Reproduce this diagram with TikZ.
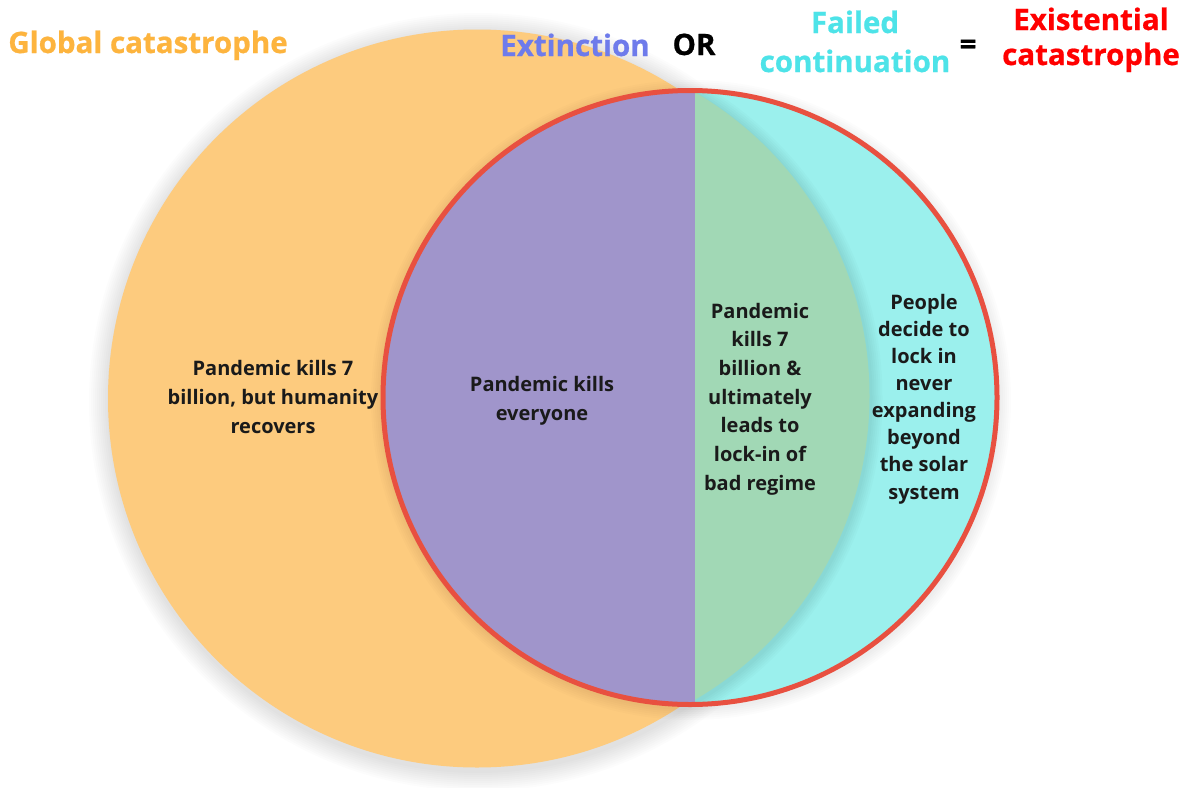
\documentclass[tikz,border=0pt]{standalone}
\usepackage{fontspec}
\setmainfont{Open Sans}
\newfontfamily\headfont{Open Sans}[BoldFeatures={FakeBold=0.7}]
\definecolor{globalfill}{RGB}{253,203,126}
\definecolor{extfill}{RGB}{160,149,203}
\definecolor{lockfill}{RGB}{161,216,181}
\definecolor{failfill}{RGB}{155,240,237}
\definecolor{rimred}{RGB}{232,80,64}
\definecolor{globaltitle}{RGB}{253,180,62}
\definecolor{exttitle}{RGB}{110,123,235}
\definecolor{failtitle}{RGB}{77,227,232}
\definecolor{existtitle}{RGB}{255,0,0}
\definecolor{bodyink}{RGB}{26,26,26}
\begin{document}
\begin{tikzpicture}[x=1pt,y=-1pt,
  body/.style={font=\bfseries\fontsize{20}{28.7}\selectfont, text=bodyink, align=center, inner sep=0pt},
  bodytight/.style={body, font=\bfseries\fontsize{20}{27.1}\selectfont},
  heading/.style={font=\headfont\bfseries\fontsize{29.5}{36}\selectfont, anchor=base, inner sep=0pt},
  shade/.style={black, opacity=#1}]
\useasboundingbox (0,0) rectangle (1193,787);
\fill[white] (0,0) rectangle (1193,787);

% soft shadow and disc of the global-catastrophe set
\foreach \k in {1,...,10}
  \fill[shade=0.01] (478,402) circle ({369+2*\k});
\fill[globalfill] (477,398.5) circle (369);

% soft shadow under the existential-catastrophe disc
\foreach \k in {1,...,6}
  \fill[shade=0.013] (691,400) circle ({308+2*\k});

% existential-catastrophe disc: extinction half and failed-continuation half
\fill[extfill] (690,397.5) circle (307);
\begin{scope}
  \clip (690,397.5) circle (307);
  \clip (695,0) rectangle (1100,787);
  \fill[failfill] (690,397.5) circle (307);
  % overlap with global catastrophe, with its own soft edge
  \foreach \k in {1,...,6}
    \fill[shade=0.015] (519,398) circle ({351.5+2*\k});
  \fill[lockfill] (518,396) circle (351.5);
\end{scope}
\draw[rimred, line width=5pt] (690,397.5) circle (307);

% headings
\node[heading, text=globaltitle] (hglobal) at (148,53) {Global catastrophe};
\node[heading, text=exttitle] (hext) at (575,56) {Extinction};
\node[heading, text=black] (hor) at (694,55) {OR};
\node[heading, text=failtitle] (hfail1) at (855,33) {Failed};
\node[heading, text=failtitle] (hfail2) at (855,72) {continuation};
\node[heading, text=black, anchor=center] (heq) at (968,47) {=};
\node[heading, text=existtitle] (hexist1) at (1091,30) {Existential};
\node[heading, text=existtitle] (hexist2) at (1091,65) {catastrophe};

% region labels
\node[body] (tglobal) at (273,397) {Pandemic kills 7\\billion, but humanity\\recovers};
\node[body] (text) at (542,401) {Pandemic kills\\everyone};
\node[body] (tlock) at (760,399) {Pandemic\\kills 7\\billion \&\\ultimately\\leads to\\lock-in of\\bad regime};
\node[bodytight] (tfail) at (924,399) {People\\decide to\\lock in\\never\\expanding\\beyond\\the solar\\system};
\end{tikzpicture}
\end{document}
